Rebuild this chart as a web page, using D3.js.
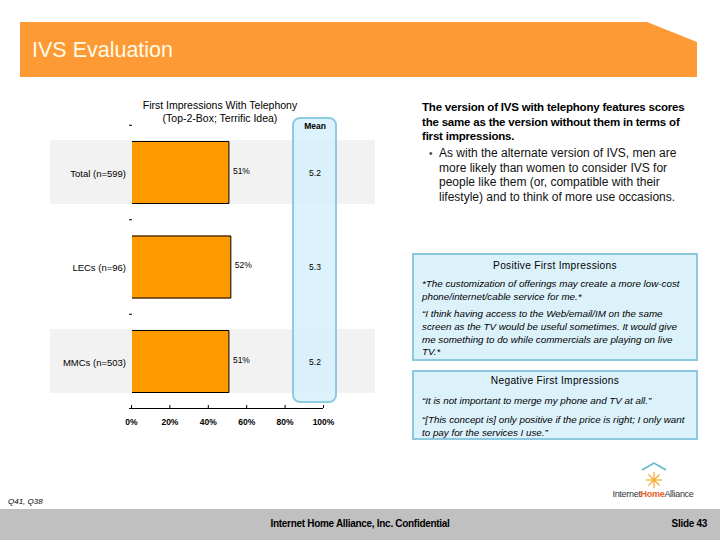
<!DOCTYPE html>
<html><head><meta charset="utf-8">
<script src="https://cdn.jsdelivr.net/npm/d3@7"></script>
<style>body{margin:0;background:#fff}svg{display:block;font-family:Arial,"Liberation Sans",sans-serif}</style>
</head><body>
<svg id="c" width="720" height="540"></svg>
<script>
const categories = ["Total (n=599)", "LECs (n=96)", "MMCs (n=503)"];
const topTwoBox = [51, 52, 51];
const means = ["5.2", "5.3", "5.2"];
const xTicks = [0, 20, 40, 60, 80, 100];
const chartTitle = ["First Impressions With Telephony", "(Top-2-Box; Terrific Idea)"];
const headline = ["The version of IVS with telephony features scores", "the same as the version without them in terms of", "first impressions."];
const bulletLines = ["As with the alternate version of IVS, men are", "more likely than women to consider IVS for", "people like them (or, compatible with their", "lifestyle) and to think of more use occasions."];
const positiveQuotes = [["*The customization of offerings may create a more low-cost", "phone/internet/cable service for me.*"], ["“I think having access to the Web/email/IM on the same", "screen as the TV would be useful sometimes. It would give", "me something to do while commercials are playing on live", "TV.*"]];
const negativeQuotes = [["“It is not important to merge my phone and TV at all.”"], ["“[This concept is] only positive if the price is right; I only want", "to pay for the services I use.”"]];

const svg = d3.select("#c");

// header
svg.append("path").attr("d","M20,22 L647,22 L697,42 L697,77 L20,77 Z").attr("fill","#fd9a35");
svg.append("text").attr("x",32).attr("y",57).attr("font-size",21.5).attr("fill","#fffbe8").text("IVS Evaluation");

// footer
svg.append("rect").attr("x",0).attr("y",509).attr("width",720).attr("height",31).attr("fill","#c0c0c0");
svg.append("text").attr("x",360).attr("y",527).attr("text-anchor","middle").attr("font-size",10).attr("font-weight","bold").attr("letter-spacing",-0.3).text("Internet Home Alliance, Inc. Confidential");
svg.append("text").attr("x",707).attr("y",527).attr("text-anchor","end").attr("font-size",10).attr("font-weight","bold").attr("letter-spacing",-0.3).text("Slide 43");
svg.append("text").attr("x",8).attr("y",504).attr("font-size",8).attr("font-style","italic").text("Q41, Q38");

// logo
const lg = svg.append("g");
lg.append("path").attr("d","M642,470 L654,463 L666,470").attr("fill","none").attr("stroke","#5bb8c8").attr("stroke-width",1.5);
for (let a=0;a<8;a++){const t=a*Math.PI/4;lg.append("line").attr("x1",654).attr("y1",480).attr("x2",654+8*Math.cos(t)).attr("y2",480+8*Math.sin(t)).attr("stroke","#f5a623").attr("stroke-width",1.2);}
const lt = lg.append("text").attr("x",653).attr("y",497).attr("text-anchor","middle").attr("font-size",9).attr("letter-spacing",-0.3);
lt.append("tspan").attr("fill","#333").text("Internet");
lt.append("tspan").attr("fill","#e8602c").attr("font-weight","bold").text("Home");
lt.append("tspan").attr("fill","#333").text("Alliance");

// chart
const x = d3.scaleLinear().domain([0,100]).range([131,323]);
const y = d3.scaleBand().domain(categories).range([125.25,408.75]).paddingInner(1/3).paddingOuter(1/6);

// gray bands
svg.append("g").selectAll("rect").data(categories.filter((d,i)=>i%2===0)).join("rect")
  .attr("x",50).attr("width",325).attr("y",d=>y(d)-1).attr("height",y.bandwidth()+1).attr("fill","#f2f2f2");

// mean box
svg.append("rect").attr("x",293).attr("y",118).attr("width",43).attr("height",284).attr("rx",7)
  .attr("fill","#d6f0fb").attr("fill-opacity",0.85).attr("stroke","#8ccbe3").attr("stroke-width",2);
svg.append("text").attr("x",315).attr("y",129).attr("text-anchor","middle").attr("font-size",8.5).attr("font-weight","bold").text("Mean");

// bars
const bars = svg.append("g");
bars.selectAll("rect").data(categories).join("rect")
  .attr("x",x(0)+1).attr("y",d=>y(d)).attr("height",y.bandwidth())
  .attr("width",(d,i)=>x(topTwoBox[i])-x(0)-1).attr("fill","#ff9900");
bars.selectAll("path").data(categories).join("path")
  .attr("d",(d,i)=>`M${x(0)+1},${y(d)+0.5}H${x(topTwoBox[i])}V${y(d)+y.bandwidth()-0.5}H${x(0)+1}`)
  .attr("fill","none").attr("stroke","#000").attr("stroke-width",1);

// value labels
svg.append("g").selectAll("text").data(categories).join("text")
  .attr("x",(d,i)=>x(topTwoBox[i])+4).attr("y",d=>y(d)+y.bandwidth()/2+1)
  .attr("font-size",8.5).text((d,i)=>topTwoBox[i]+"%");
svg.append("g").selectAll("text").data(categories).join("text")
  .attr("x",315).attr("y",d=>y(d)+y.bandwidth()/2+3).attr("text-anchor","middle")
  .attr("font-size",8.5).text((d,i)=>means[i]);

// category labels
svg.append("g").selectAll("text").data(categories).join("text")
  .attr("x",126).attr("y",d=>y(d)+y.bandwidth()/2+4).attr("text-anchor","end")
  .attr("font-size",9.5).text(d=>d);

// separator dashes
svg.append("g").selectAll("line").data(categories).join("line")
  .attr("x1",129).attr("x2",132).attr("y1",d=>y(d)-y.step()/6).attr("y2",d=>y(d)-y.step()/6).attr("stroke","#000").attr("stroke-width",1);

// x axis
const ax = svg.append("g").attr("transform","translate(0,408)")
  .call(d3.axisBottom(x).tickValues(xTicks).tickSize(3).tickFormat(d=>d+"%"));
ax.select(".domain").attr("stroke","#000").attr("d","M129,0.5H323");
ax.selectAll(".tick line").attr("y1",-3).attr("y2",0);
ax.selectAll(".tick text").attr("font-size",8.5).attr("font-weight","bold").attr("dy","0").attr("y",17).attr("font-family","Arial,sans-serif");

// chart title
svg.append("g").selectAll("text").data(chartTitle).join("text")
  .attr("x",220).attr("y",(d,i)=>109+i*13).attr("text-anchor","middle").attr("font-size",10.5).text(d=>d);

// right text
svg.append("g").selectAll("text").data(headline).join("text")
  .attr("x",422).attr("y",(d,i)=>111+i*14.5).attr("font-size",11.5).attr("font-weight","bold").attr("letter-spacing",-0.2).text(d=>d);
svg.append("text").attr("x",429).attr("y",157).attr("font-size",10).attr("fill","#444").text("•");
svg.append("g").selectAll("text").data(bulletLines).join("text")
  .attr("x",439).attr("y",(d,i)=>157+i*14.7).attr("font-size",12).attr("fill","#111").text(d=>d);

// quote boxes
function quoteBox(y0,h,title,quotes,titleY,starts){
  svg.append("rect").attr("x",413).attr("y",y0).attr("width",284).attr("height",h).attr("fill","#dcf2fb").attr("stroke","#8cc8e0").attr("stroke-width",2);
  svg.append("text").attr("x",555).attr("y",titleY).attr("text-anchor","middle").attr("font-size",10.2).attr("letter-spacing",0.3).text(title);
  quotes.forEach((q,qi)=>{
    svg.append("g").selectAll("text").data(q).join("text")
      .attr("x",422).attr("y",(d,i)=>starts[qi]+i*12.8).attr("font-size",9.8).attr("font-style","italic").text(d=>d);
  });
}
quoteBox(254,106,"Positive First Impressions",positiveQuotes,269,[287,317]);
quoteBox(371,68,"Negative First Impressions",negativeQuotes,384,[404,423]);
</script>
</body></html>
